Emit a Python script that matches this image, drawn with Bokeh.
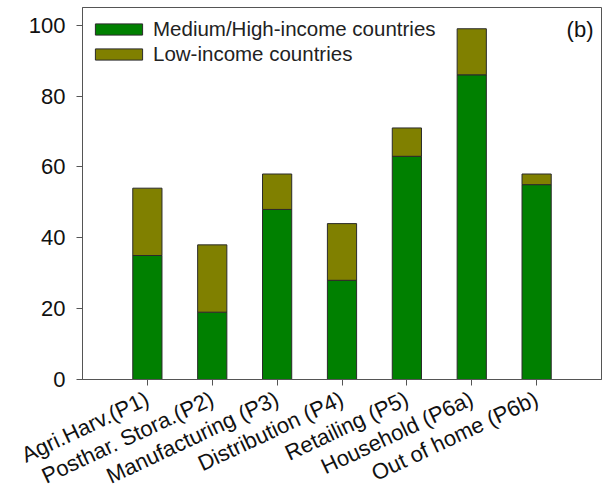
from bokeh.plotting import figure
from bokeh.models import ColumnDataSource, Range1d, FixedTicker, Label, Legend
from bokeh.embed import file_html
from bokeh.resources import INLINE

categories = ["Agri.Harv.(P1)", "Posthar. Stora.(P2)", "Manufacturing (P3)",
              "Distribution (P4)", "Retailing (P5)", "Household (P6a)", "Out of home (P6b)"]
high_income = [35, 19, 48, 28, 63, 86, 55]
low_income = [19, 19, 10, 16, 8, 13, 3]
series_names = ["Medium/High-income countries", "Low-income countries"]
y_ticks = [0, 20, 40, 60, 80, 100]

positions = list(range(1, len(categories) + 1))
src = ColumnDataSource(dict(x=positions, high=high_income, low=low_income))

FONT = "Liberation Sans"

p = figure(width=606, height=492, output_backend="svg", toolbar_location=None,
           x_range=Range1d(0, len(categories) + 1), y_range=Range1d(0, 105),
           min_border_left=82, min_border_right=5, min_border_top=7, min_border_bottom=113)
p.frame_width = 519
p.frame_height = 372

renderers = p.vbar_stack(["high", "low"], x="x", width=0.45, source=src,
                         color=["#008000", "#808000"], line_color="#2a2a2a", line_width=1)

legend = Legend(items=[(series_names[0], [renderers[0]]), (series_names[1], [renderers[1]])],
                location=(7, 313), border_line_color=None, background_fill_alpha=0,
                glyph_width=59, glyph_height=14, label_standoff=5, spacing=1,
                padding=6, margin=0, label_text_font=FONT, label_text_font_size="20.5px",
                label_text_color="#222222", label_height=20)
p.add_layout(legend)

p.xgrid.visible = False
p.ygrid.visible = False
p.outline_line_color = "#555555"
p.outline_line_width = 1

p.xaxis.ticker = FixedTicker(ticks=positions)
p.xaxis.major_label_overrides = {pos: c for pos, c in zip(positions, categories)}
p.xaxis.major_label_orientation = 0.44
p.yaxis.ticker = FixedTicker(ticks=y_ticks)

for ax in (p.xaxis, p.yaxis):
    ax.axis_line_color = "#555555"
    ax.major_tick_line_color = "#555555"
    ax.major_tick_out = 6
    ax.major_tick_in = 0
    ax.minor_tick_line_color = None
    ax.major_label_text_font = FONT
    ax.major_label_text_color = "#111111"

p.yaxis.major_label_text_font_size = "22px"
p.yaxis.major_label_standoff = 11
p.xaxis.major_label_text_font_size = "22px"
p.xaxis.major_label_standoff = 12

p.add_layout(Label(x=511, y=363, x_units="screen", y_units="screen", text="(b)",
                   text_align="right", text_baseline="top", text_font=FONT,
                   text_font_size="22px", text_color="#111111"))

open("out.html", "w").write(file_html(p, INLINE))
